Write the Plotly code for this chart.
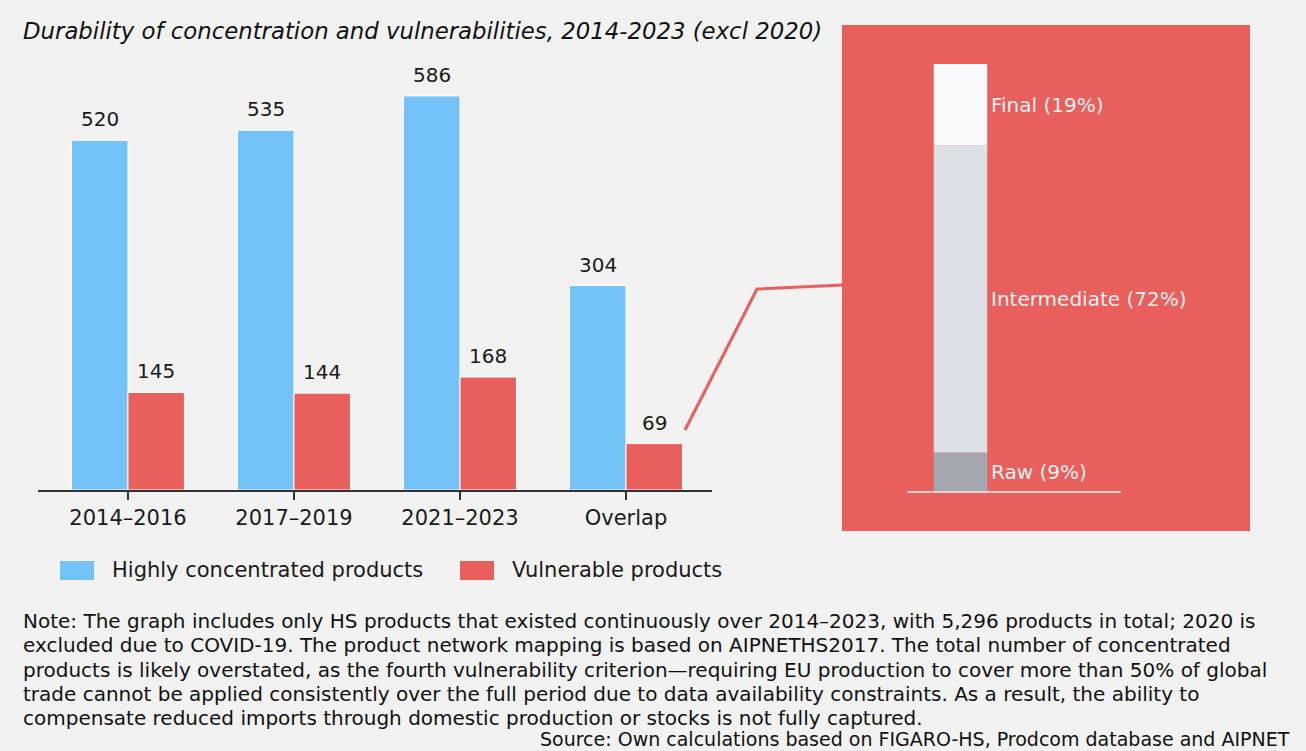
import plotly.graph_objects as go

# Canvas size (margins are zero, so paper coordinates map directly to pixels)
W, H = 1306, 751

# Main chart data
periods = ["2014–2016", "2017–2019", "2021–2023", "Overlap"]
concentrated = [520, 535, 586, 304]
vulnerable = [145, 144, 168, 69]

# Breakdown of the overlapping vulnerable products by production stage
stages = ["Raw", "Intermediate", "Final"]
stage_share = [9, 72, 19]

BLUE = "#74c2fa"
RED = "#e85f5c"
BG = "#f2f2f2"
STAGE_COLORS = ["#a4a6b0", "#dcdfe6", "#fafafc"]

FONT = "DejaVu Sans, Verdana, sans-serif"

NOTE_LINES = [
    "Note: The graph includes only HS products that existed continuously over 2014–2023, with 5,296 products in total; 2020 is",
    "excluded due to COVID-19. The product network mapping is based on AIPNETHS2017. The total number of concentrated",
    "products is likely overstated, as the fourth vulnerability criterion—requiring EU production to cover more than 50% of global",
    "trade cannot be applied consistently over the full period due to data availability constraints. As a result, the ability to",
    "compensate reduced imports through domestic production or stocks is not fully captured.",
]
SOURCE = "Source: Own calculations based on FIGARO-HS, Prodcom database and AIPNET"


def px(x):
    return x / W


def py(y):
    return 1 - y / H


fig = go.Figure()

BAR_W = 0.34
fig.add_trace(go.Bar(
    x=periods, y=concentrated, name="Highly concentrated products",
    width=BAR_W, offset=-BAR_W, marker=dict(color=BLUE, line=dict(color="white", width=1)),
    hoverinfo="x+y", xaxis="x", yaxis="y",
))
fig.add_trace(go.Bar(
    x=periods, y=vulnerable, name="Vulnerable products",
    width=BAR_W, offset=0, marker=dict(color=RED, line=dict(color="white", width=1)),
    hoverinfo="x+y", xaxis="x", yaxis="y",
))

# Value labels above each bar
annotations = []
for i, (c, v) in enumerate(zip(concentrated, vulnerable)):
    for xv, val in ((i - BAR_W / 2, c), (i + BAR_W / 2, v)):
        annotations.append(dict(
            x=xv, y=val, xref="x", yref="y", text=str(val), showarrow=False,
            yanchor="bottom", yshift=7, font=dict(family=FONT, size=20, color="#1a1a1a"),
        ))

# Stacked production-stage bar inside the callout panel
base = 0
for name, share, col in zip(stages, stage_share, STAGE_COLORS):
    fig.add_trace(go.Bar(
        x=[0], y=[share], base=[base], width=1, name=name, showlegend=False,
        marker=dict(color=col, line=dict(color=col, width=0)),
        xaxis="x2", yaxis="y2", hoverinfo="name+y",
    ))
    annotations.append(dict(
        x=0.5, y=base + share / 2, xref="x2", yref="y2", text=f"{name} ({share}%)",
        showarrow=False, xanchor="left", yanchor="middle", xshift=2,
        font=dict(family=FONT, size=20, color="#fdf1f1"),
    ))
    base += share

# Title
annotations.append(dict(
    x=px(21), y=py(31), xref="paper", yref="paper", xanchor="left", yanchor="middle",
    text="<i>Durability of concentration and vulnerabilities, 2014-2023 (excl 2020)</i>",
    showarrow=False, font=dict(family=FONT, size=22.8, color="#111111"),
))

# Legend
legend_items = [("Highly concentrated products", BLUE, 60), ("Vulnerable products", RED, 460)]
shapes = []
for text, col, x0 in legend_items:
    shapes.append(dict(type="rect", xref="paper", yref="paper",
                       x0=px(x0), x1=px(x0 + 34), y0=py(580), y1=py(561),
                       fillcolor=col, line=dict(width=0)))
    annotations.append(dict(
        x=px(x0 + 50), y=py(570), xref="paper", yref="paper", xanchor="left", yanchor="middle",
        text=text, showarrow=False, font=dict(family=FONT, size=21, color="#1a1a1a"),
    ))

# Note (one annotation per line for exact line spacing) and source
for k, line in enumerate(NOTE_LINES):
    annotations.append(dict(
        x=px(21), y=py(621 + 24.3 * k), xref="paper", yref="paper", xanchor="left", yanchor="middle",
        text=line, showarrow=False, font=dict(family=FONT, size=20, color="#111111"),
    ))
annotations.append(dict(
    x=px(1292), y=py(739), xref="paper", yref="paper", xanchor="right", yanchor="middle",
    text=SOURCE, showarrow=False, font=dict(family=FONT, size=19, color="#111111"),
))

# Callout panel and connector line
shapes.append(dict(type="rect", xref="paper", yref="paper", layer="below",
                   x0=px(842), x1=px(1250), y0=py(531), y1=py(25),
                   fillcolor=RED, line=dict(width=0)))
shapes.append(dict(type="path", xref="paper", yref="paper",
                   path=f"M {px(685)},{py(430)} L {px(757)},{py(289)} L {px(843)},{py(285)}",
                   line=dict(color=RED, width=3)))

fig.update_layout(
    width=W, height=H, margin=dict(l=0, r=0, t=0, b=0),
    paper_bgcolor=BG, plot_bgcolor="rgba(0,0,0,0)",
    barmode="overlay", showlegend=False,
    annotations=annotations, shapes=shapes,
    xaxis=dict(
        domain=[px(38), px(712)], type="category", range=[-0.542, 3.518],
        showline=True, linecolor="#333333", linewidth=1.5,
        ticks="outside", ticklen=8, tickwidth=1.5, tickcolor="#333333",
        tickfont=dict(family=FONT, size=21, color="#1a1a1a"),
        showgrid=False, zeroline=False, fixedrange=True,
    ),
    yaxis=dict(
        domain=[py(490), py(59.6)], range=[0, 640], visible=False, fixedrange=True,
    ),
    xaxis2=dict(
        domain=[px(907), px(1121)], range=[-1, 3], anchor="y2",
        showline=True, linecolor="#f6cfce", linewidth=1.5,
        showticklabels=False, ticks="", showgrid=False, zeroline=False, fixedrange=True,
    ),
    yaxis2=dict(
        domain=[py(491), py(64)], range=[0, 100], anchor="x2", visible=False, fixedrange=True,
    ),
)

fig.write_html("out.html")
